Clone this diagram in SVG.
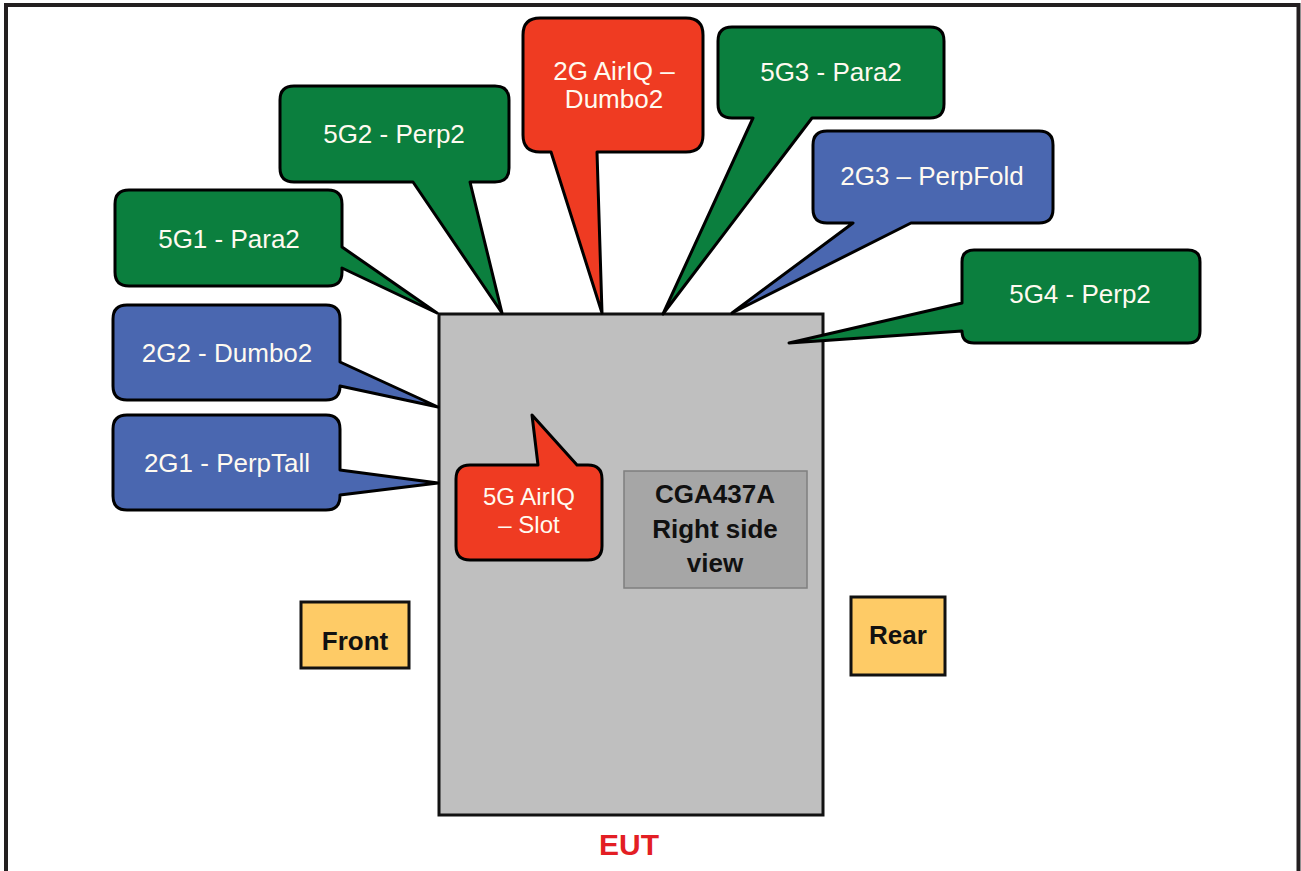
<svg xmlns="http://www.w3.org/2000/svg" width="1301" height="871" viewBox="0 0 1301 871">
<style>
.co{stroke:#000;stroke-width:3;stroke-linejoin:round}
.g{fill:#0b7f3e}.b{fill:#4a67b0}.r{fill:#ef3b22}
.t{font-family:"Liberation Sans",Arial,sans-serif;font-size:26px;fill:#fffaf0;text-anchor:middle}
.k{font-family:"Liberation Sans",Arial,sans-serif;font-size:26px;font-weight:bold;fill:#111;text-anchor:middle}
</style>
<rect width="1301" height="871" fill="#fff"/>
<path d="M6,871 V5 H1298.5 V871" fill="none" stroke="#231f20" stroke-width="4"/>
<g id="eut">
<rect x="439" y="314" width="384" height="501" fill="#bfbfbf" stroke="#111" stroke-width="3"/>
<text x="629" y="855" font-family="Liberation Sans,Arial,sans-serif" font-size="30" font-weight="bold" fill="#e31e24" text-anchor="middle">EUT</text>
</g>
<g id="label">
<rect x="624" y="471" width="183" height="117" fill="#a6a6a6" stroke="#7f7f7f" stroke-width="1.5"/>
<text class="k" x="715" y="503">CGA437A</text>
<text class="k" x="715" y="538">Right side</text>
<text class="k" x="715" y="572">view</text>
</g>
<g id="front">
<rect x="301" y="602" width="108" height="66" fill="#fecb66" stroke="#111" stroke-width="3"/>
<text class="k" x="355" y="650">Front</text>
</g>
<g id="rear">
<rect x="851" y="597" width="94" height="78" fill="#fecb66" stroke="#111" stroke-width="3"/>
<text class="k" x="898" y="644">Rear</text>
</g>
<g id="connectors">
</g>
<g id="c5g1">
<path class="co g" d="M129,190 H328 Q342,190 342,204 V247 L437,313 L342,268 V272 Q342,286 328,286 H129 Q115,286 115,272 V204 Q115,190 129,190 Z"/>
<text class="t" x="229" y="248">5G1 - Para2</text>
</g>
<g id="c5g2">
<path class="co g" d="M294,86 H495 Q509,86 509,100 V168 Q509,182 495,182 H470 L502,313 L413,182 H294 Q280,182 280,168 V100 Q280,86 294,86 Z"/>
<text class="t" x="394" y="143">5G2 - Perp2</text>
</g>
<g id="c2gairiq">
<path class="co r" d="M540,18 H686 Q703,18 703,35 V135 Q703,152 686,152 H597 L602,313 L551,152 H540 Q523,152 523,135 V35 Q523,18 540,18 Z"/>
<text class="t" x="614" y="80">2G AirIQ –</text>
<text class="t" x="614" y="108">Dumbo2</text>
</g>
<g id="c5g3">
<path class="co g" d="M732,27 H930 Q944,27 944,41 V104 Q944,118 930,118 H812 L663,314 L753,118 H732 Q718,118 718,104 V41 Q718,27 732,27 Z"/>
<text class="t" x="831" y="81">5G3 - Para2</text>
</g>
<g id="c2g3">
<path class="co b" d="M827,131 H1039 Q1053,131 1053,145 V209 Q1053,223 1039,223 H911 L732,313 L853,223 H827 Q813,223 813,209 V145 Q813,131 827,131 Z"/>
<text class="t" x="932" y="185">2G3 – PerpFold</text>
</g>
<g id="c5g4">
<path class="co g" d="M974,250 H1188 Q1200,250 1200,262 V331 Q1200,343 1188,343 H974 Q962,343 962,331 L789,343 L962,303 V262 Q962,250 974,250 Z"/>
<text class="t" x="1080" y="303">5G4 - Perp2</text>
</g>
<g id="c2g2">
<path class="co b" d="M127,305 H326 Q340,305 340,319 V362 L438,407 L340,386 Q340,400 326,400 H127 Q113,400 113,386 V319 Q113,305 127,305 Z"/>
<text class="t" x="227" y="362">2G2 - Dumbo2</text>
</g>
<g id="c2g1">
<path class="co b" d="M127,415 H326 Q340,415 340,429 V470 L438,483 L340,495 V496 Q340,510 326,510 H127 Q113,510 113,496 V429 Q113,415 127,415 Z"/>
<text class="t" x="227" y="472">2G1 - PerpTall</text>
</g>
<g id="c5gairiq">
<path class="co r" d="M470,465 H538 L532,415 L577,465 H588 Q602,465 602,479 V546 Q602,560 588,560 H470 Q456,560 456,546 V479 Q456,465 470,465 Z"/>
<text class="t" x="529" y="505" style="font-size:24px">5G AirIQ</text>
<text class="t" x="529" y="533" style="font-size:24px">– Slot</text>
</g>
</svg>
